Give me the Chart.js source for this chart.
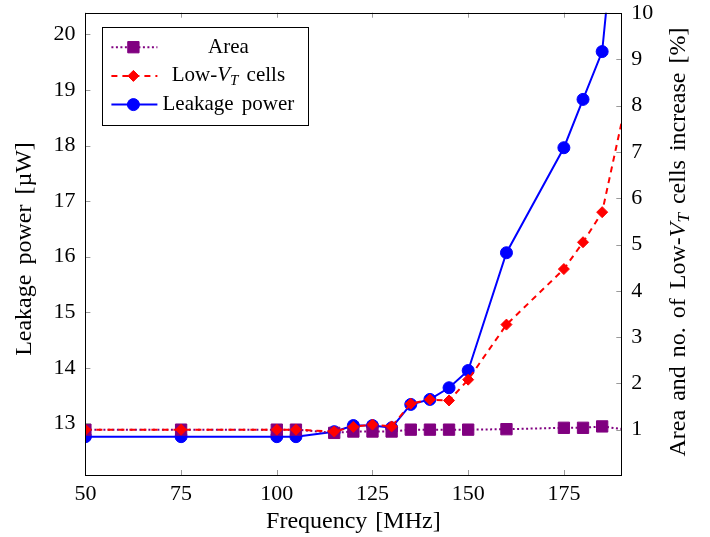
<!DOCTYPE html>
<html><head><meta charset="utf-8">
<script src="https://cdn.jsdelivr.net/npm/chart.js@4/dist/chart.umd.min.js"></script>
<style>html,body{margin:0;padding:0;background:#fff}#wrap{width:710px;height:537px}</style>
</head><body><div id="wrap"><canvas id="c" width="710" height="537"></canvas></div>
<script>
// ---- data ----
const frequency    = [50, 75, 100, 105, 115, 120, 125, 130, 135, 140, 145, 150, 160, 175, 180, 185, 190];
const leakagePower = [12.76, 12.76, 12.76, 12.76, 12.85, 12.96, 12.96, 12.92, 13.34, 13.43, 13.64, 13.95, 16.07, 17.96, 18.83, 19.69, 23.2];
const lowVtCells   = [1.0, 1.0, 1.0, 1.0, 0.96, 1.06, 1.11, 1.07, 1.56, 1.65, 1.63, 2.08, 3.27, 4.47, 5.05, 5.70, 7.61];
const areaIncrease = [1.0, 1.0, 1.0, 1.0, 0.93, 0.96, 0.96, 0.96, 1.0, 1.0, 1.0, 1.0, 1.01, 1.04, 1.04, 1.07, 1.015];
const xTicks     = [50, 75, 100, 125, 150, 175];
const leftTicks  = [13, 14, 15, 16, 17, 18, 19, 20];
const rightTicks = [1, 2, 3, 4, 5, 6, 7, 8, 9, 10];
const seriesNames = ['Area', 'Low-V_T cells', 'Leakage power'];
const xTitleParts = [['Frequency [MHz]', 'n']];
const leftTitleParts = [['Leakage power [\u00B5W]', 'n']];
const rightTitleParts = [['Area and no. of Low-', 'n'], ['V', 'i'], ['T', 's'], [' cells increase [%]', 'n']];

const FONT = '"Liberation Serif", "Times New Roman", serif';
const FS = 22;
const hiddenLast = frequency.map((f, i) => i === frequency.length - 1);

function pts(ys) { return frequency.map((f, i) => ({x: f, y: ys[i]})); }

function drawRich(ctx, parts, cx, cy, rot, size, extraSpace) {
  const fontFor = s => s === 'n' ? `${size}px ${FONT}` : s === 'i' ? `italic ${size}px ${FONT}` : `italic ${Math.round(size*0.7)}px ${FONT}`;
  ctx.save();
  ctx.translate(cx, cy);
  ctx.rotate(rot);
  const toks = [];
  parts.forEach(p => {
    p[0].split(/( )/).forEach(t => { if (t !== '') toks.push([t, p[1]]); });
  });
  let total = 0;
  const widths = toks.map(t => { ctx.font = fontFor(t[1]); let w = ctx.measureText(t[0]).width; if (t[0] === ' ') w += extraSpace; total += w; return w; });
  let x = -total / 2;
  ctx.fillStyle = '#000';
  ctx.textBaseline = 'middle';
  ctx.textAlign = 'left';
  toks.forEach((t, i) => {
    ctx.font = fontFor(t[1]);
    if (t[0] !== ' ') ctx.fillText(t[0], x, t[1] === 's' ? size * 0.24 : 0);
    x += widths[i];
  });
  ctx.restore();
}

function drawMarker(ctx, ds, x, y) {
  const r = ds.legendRadius;
  ctx.save();
  ctx.fillStyle = ds.pointBackgroundColor;
  ctx.strokeStyle = ds.pointBorderColor;
  ctx.lineWidth = 1;
  ctx.setLineDash([]);
  ctx.beginPath();
  if (ds.pointStyle === 'circle') ctx.arc(x, y, r, 0, Math.PI * 2);
  else if (ds.pointStyle === 'rect') { const s = r * Math.SQRT1_2; ctx.rect(x - s, y - s, 2 * s, 2 * s); }
  else { ctx.moveTo(x, y - r); ctx.lineTo(x + r, y); ctx.lineTo(x, y + r); ctx.lineTo(x - r, y); ctx.closePath(); }
  ctx.fill(); ctx.stroke();
  ctx.restore();
}

const decor = {
  id: 'decor',
  afterDatasetsDraw(chart) {
    const ctx = chart.ctx;
    const a = chart.chartArea;
    const sx = chart.scales.x, sl = chart.scales.y, sr = chart.scales.y1;
    const TL = 5;
    ctx.save();
    ctx.strokeStyle = '#9a9a9a';
    ctx.lineWidth = 1;
    ctx.beginPath();
    xTicks.forEach(v => { const px = Math.round(sx.getPixelForValue(v)) + 0.5;
      ctx.moveTo(px, a.bottom); ctx.lineTo(px, a.bottom - TL);
      ctx.moveTo(px, a.top); ctx.lineTo(px, a.top + TL); });
    leftTicks.forEach(v => { const py = Math.round(sl.getPixelForValue(v)) + 0.5;
      ctx.moveTo(a.left, py); ctx.lineTo(a.left + TL, py); });
    rightTicks.forEach(v => { const py = Math.round(sr.getPixelForValue(v)) + 0.5;
      ctx.moveTo(a.right, py); ctx.lineTo(a.right - TL, py); });
    ctx.stroke();
    ctx.strokeStyle = '#000';
    ctx.strokeRect(Math.round(a.left) + 0.5, Math.round(a.top) + 0.5, Math.round(a.right - a.left), Math.round(a.bottom - a.top));
    ctx.restore();

    // axis titles
    drawRich(ctx, xTitleParts, (a.left + a.right) / 2, 522, 0, 24, 2);
    drawRich(ctx, leftTitleParts, 25, 249, -Math.PI / 2, 24, 4);
    drawRich(ctx, rightTitleParts, 679, 242, -Math.PI / 2, 24, 3);

    // legend
    const bx = a.left + 17, by = a.top + 14, bw = 206, bh = 98;
    ctx.save();
    ctx.fillStyle = '#fff';
    ctx.fillRect(bx, by, bw, bh);
    ctx.strokeStyle = '#000'; ctx.lineWidth = 1;
    ctx.strokeRect(Math.round(bx) + 0.5, Math.round(by) + 0.5, bw, bh);
    ctx.restore();
    [0, 1, 2].forEach((di, row) => {
      const ds = chart.data.datasets[di];
      const y = by + 20.5 + row * 28.7;
      ctx.save();
      ctx.strokeStyle = ds.borderColor; ctx.lineWidth = ds.borderWidth;
      ctx.setLineDash(ds.borderDash || []);
      ctx.beginPath(); ctx.moveTo(bx + 9, y); ctx.lineTo(bx + 55, y); ctx.stroke();
      ctx.restore();
      drawMarker(ctx, ds, bx + 31, y);
      const name = seriesNames[di];
      const tx = bx + 126;
      if (name.indexOf('_') >= 0) {
        const [pre, post] = name.split('_');
        const base = pre.slice(0, -1), v = pre.slice(-1);
        const sub = post.split(' ')[0], rest = post.slice(sub.length);
        drawRich(ctx, [[base, 'n'], [v, 'i'], [sub, 's'], [rest, 'n']], tx, y, 0, 21, 3);
      } else {
        drawRich(ctx, [[name, 'n']], tx, y, 0, 21, 3);
      }
    });
  }
};

const tickFont = {family: FONT, size: FS};
const zeroPad = s => { s.paddingTop = 0; s.paddingBottom = 0; s.paddingLeft = 0; s.paddingRight = 0; };

new Chart(document.getElementById('c'), {
  type: 'line',
  data: {
    datasets: [
      { label: seriesNames[0], data: pts(areaIncrease), yAxisID: 'y1',
        borderColor: '#800080', backgroundColor: '#800080', pointBackgroundColor: '#800080', pointBorderColor: '#800080',
        borderWidth: 2, borderDash: [2, 2.5], pointStyle: 'rect', legendRadius: 8,
        pointRadius: hiddenLast.map(h => h ? 0 : 8), pointBorderWidth: 1, order: 2 },
      { label: seriesNames[1], data: pts(lowVtCells), yAxisID: 'y1',
        borderColor: '#ff0000', backgroundColor: '#ff0000', pointBackgroundColor: '#ff0000', pointBorderColor: '#ff0000',
        borderWidth: 2, borderDash: [6, 5], pointStyle: 'rectRot', legendRadius: 5.5,
        pointRadius: hiddenLast.map(h => h ? 0 : 5.5), pointBorderWidth: 1, order: 1 },
      { label: seriesNames[2], data: pts(leakagePower), yAxisID: 'y',
        borderColor: '#0000ff', backgroundColor: '#0000ff', pointBackgroundColor: '#0000ff', pointBorderColor: '#0000ff',
        borderWidth: 2, pointStyle: 'circle', legendRadius: 6,
        pointRadius: hiddenLast.map(h => h ? 0 : 6), pointBorderWidth: 1, order: 3 }
    ]
  },
  options: {
    responsive: false, animation: false, devicePixelRatio: 1,
    layout: {padding: {top: 12.7, left: 0, right: 0, bottom: 0}},
    plugins: {legend: {display: false}, tooltip: {enabled: false}},
    elements: {line: {tension: 0}},
    scales: {
      x: { type: 'linear', position: 'bottom', min: 50, max: 190,
        grid: {display: false, drawTicks: false}, border: {display: false},
        ticks: {font: tickFont, color: '#000', padding: 6, maxRotation: 0},
        afterBuildTicks: s => { s.ticks = xTicks.map(v => ({value: v})); },
        afterFit: s => { s.height = 62; zeroPad(s); } },
      y: { type: 'linear', position: 'left', min: 12.07, max: 20.39,
        grid: {display: false, drawTicks: false}, border: {display: false},
        ticks: {font: tickFont, color: '#000', padding: 10},
        afterBuildTicks: s => { s.ticks = leftTicks.map(v => ({value: v})); },
        afterFit: s => { s.width = 85.4; zeroPad(s); } },
      y1: { type: 'linear', position: 'right', min: 0.02, max: 10.01,
        grid: {display: false, drawTicks: false}, border: {display: false},
        ticks: {font: tickFont, color: '#000', padding: 10},
        afterBuildTicks: s => { s.ticks = rightTicks.map(v => ({value: v})); },
        afterFit: s => { s.width = 88.7; zeroPad(s); } }
    }
  },
  plugins: [decor]
});
</script>
</body></html>
